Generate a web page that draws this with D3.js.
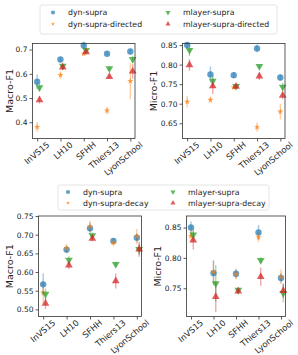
<!DOCTYPE html>
<html><head><meta charset="utf-8">
<script src="https://cdn.jsdelivr.net/npm/d3@7"></script>
<style>body{margin:0;background:#fff} svg{display:block;font-family:"DejaVu Sans",sans-serif}</style>
</head><body><svg id="c" width="298" height="355"></svg>
<script>
const categories = ["InVS15","LH10","SFHH","Thiers13","LyonSchool"];
const seriesTop = ["dyn-supra","dyn-supra-directed","mlayer-supra","mlayer-supra-directed"];
const seriesBottom = ["dyn-supra","dyn-supra-decay","mlayer-supra","mlayer-supra-decay"];
const colors = ["#1f77b4","#ff7f0e","#2ca02c","#d62728"];

// Top-left: Macro-F1 (directed)
const macroDir_dyn = [0.567, 0.659, 0.717, 0.683, 0.692];
const macroDir_dyn_err = [0.03, 0.01, 0.015, 0.008, 0.012];
const macroDir_dir = [0.380, 0.595, 0.683, 0.448, 0.570];
const macroDir_dir_err = [0.02, 0.015, 0.006, 0.015, 0.075];
const macroDir_ml = [0.543, 0.632, 0.697, 0.622, 0.660];
const macroDir_ml_err = [0.015, 0.01, 0.008, 0.008, 0.015];
const macroDir_mldir = [0.492, 0.627, 0.690, 0.588, 0.610];
const macroDir_mldir_err = [0.015, 0.01, 0.008, 0.008, 0.03];

// Top-right: Micro-F1 (directed)
const microDir_dyn = [0.850, 0.775, 0.773, 0.8415, 0.767];
const microDir_dyn_err = [0.008, 0.02, 0.008, 0.01, 0.008];
const microDir_dir = [0.705, 0.710, 0.742, 0.640, 0.680];
const microDir_dir_err = [0.015, 0.008, 0.004, 0.012, 0.02];
const microDir_ml = [0.837, 0.758, 0.745, 0.796, 0.743];
const microDir_ml_err = [0.015, 0.015, 0.004, 0.005, 0.01];
const microDir_mldir = [0.799, 0.745, 0.744, 0.7705, 0.721];
const microDir_mldir_err = [0.015, 0.02, 0.004, 0.01, 0.01];

// Bottom-left: Macro-F1 (decay)
const macroDec_dyn = [0.567, 0.660, 0.717, 0.683, 0.692];
const macroDec_dyn_err = [0.03, 0.01, 0.015, 0.008, 0.012];
const macroDec_dec = [0.545, 0.663, 0.722, 0.679, 0.695];
const macroDec_dec_err = [0.03, 0.012, 0.015, 0.01, 0.02];
const macroDec_ml = [0.541, 0.632, 0.698, 0.621, 0.661];
const macroDec_ml_err = [0.015, 0.01, 0.008, 0.006, 0.015];
const macroDec_mldec = [0.516, 0.618, 0.690, 0.576, 0.661];
const macroDec_mldec_err = [0.015, 0.01, 0.008, 0.02, 0.02];

// Bottom-right: Micro-F1 (decay)
const microDec_dyn = [0.850, 0.775, 0.774, 0.842, 0.767];
const microDec_dyn_err = [0.01, 0.02, 0.008, 0.012, 0.008];
const microDec_dec = [0.836, 0.777, 0.773, 0.834, 0.769];
const microDec_dec_err = [0.01, 0.02, 0.008, 0.008, 0.012];
const microDec_ml = [0.838, 0.758, 0.747, 0.796, 0.742];
const microDec_ml_err = [0.01, 0.03, 0.005, 0.005, 0.015];
const microDec_mldec = [0.829, 0.736, 0.745, 0.769, 0.746];
const microDec_mldec_err = [0.015, 0.025, 0.005, 0.015, 0.012];

const ticksTL = [0.4, 0.5, 0.6, 0.7];
const ticksTR = [0.65, 0.70, 0.75, 0.80, 0.85];
const ticksBL = [0.50, 0.55, 0.60, 0.65, 0.70, 0.75];
const ticksBR = [0.75, 0.80, 0.85];

const svg = d3.select("#c");
const offsets = [0, 0, 0.1, 0.1];

function marker(g, i, x, y, s) {
  const c = colors[i];
  if (i === 0) {
    g.append("circle").attr("cx", x).attr("cy", y).attr("r", 3.2*s).attr("fill", c).attr("fill-opacity", 0.7);
  } else if (i === 1) {
    g.append("path").attr("d", d3.symbol(d3.symbolStar, 12*s*s)()).attr("transform", `translate(${x},${y})`).attr("fill", c).attr("fill-opacity", 0.75);
  } else if (i === 2) {
    g.append("path").attr("d", d3.symbol(d3.symbolTriangle, 26*s*s)()).attr("transform", `translate(${x},${y}) rotate(180)`).attr("fill", c).attr("fill-opacity", 0.75);
  } else {
    g.append("path").attr("d", d3.symbol(d3.symbolTriangle, 26*s*s)()).attr("transform", `translate(${x},${y})`).attr("fill", c).attr("fill-opacity", 0.75);
  }
}

function panel(cfg) {
  const x = d3.scaleLinear().domain([-0.2, 4.2]).range([cfg.x0, cfg.x1]);
  const y = d3.scaleLinear().domain(cfg.yd).range([cfg.y1, cfg.y0]);
  const g = svg.append("g");
  cfg.series.forEach((s, i) => {
    s.v.forEach((v, k) => {
      const xx = x(k + offsets[i]);
      g.append("line").attr("x1", xx).attr("x2", xx).attr("y1", y(v - s.e[k])).attr("y2", y(v + s.e[k]))
        .attr("stroke", colors[i]).attr("stroke-opacity", 0.4).attr("stroke-width", 1.4);
    });
  });
  cfg.series.forEach((s, i) => {
    s.v.forEach((v, k) => marker(g, i, x(k + offsets[i]), y(v), 1));
  });
  const ay = d3.axisLeft(y).tickValues(cfg.ticks).tickFormat(d3.format(cfg.fmt)).tickSize(3).tickPadding(2);
  const gy = svg.append("g").attr("transform", `translate(${cfg.x0},0)`).call(ay);
  const ax = d3.axisBottom(x).tickValues(d3.range(categories.length)).tickFormat(() => "").tickSize(3);
  const gx = svg.append("g").attr("transform", `translate(0,${cfg.y1})`).call(ax);
  [gy, gx].forEach(a => {
    a.select(".domain").remove();
    a.selectAll("line").attr("stroke", "#333").attr("stroke-width", 0.8);
    a.selectAll("text").attr("font-size", 7.5).attr("fill", "#222").attr("font-family", "DejaVu Sans");
  });
  svg.append("rect").attr("x", cfg.x0).attr("y", cfg.y0).attr("width", cfg.x1 - cfg.x0).attr("height", cfg.y1 - cfg.y0)
    .attr("fill", "none").attr("stroke", "#333").attr("stroke-width", 0.8);
  categories.forEach((c, k) => {
    svg.append("text").attr("transform", `translate(${x(k) + 11},${cfg.y1 + 5}) rotate(-40)`)
      .attr("text-anchor", "end").attr("dy", "0.35em").attr("font-size", 8.4).attr("fill", "#222").text(c);
  });
  svg.append("text").attr("transform", `translate(${cfg.lx},${(cfg.y0 + cfg.y1) / 2}) rotate(-90)`)
    .attr("text-anchor", "middle").attr("font-size", 9.5).attr("fill", "#222").text(cfg.label);
}

function mk(v, e) { return {v, e}; }

panel({x0: 32.5, x1: 135, y0: 43.5, y1: 138.5, yd: [0.333, 0.725], ticks: ticksTL, fmt: ".1f", lx: 13, label: "Macro-F1",
  series: [mk(macroDir_dyn, macroDir_dyn_err), mk(macroDir_dir, macroDir_dir_err), mk(macroDir_ml, macroDir_ml_err), mk(macroDir_mldir, macroDir_mldir_err)]});
panel({x0: 182.5, x1: 285, y0: 43.5, y1: 138.5, yd: [0.611, 0.854], ticks: ticksTR, fmt: ".2f", lx: 157, label: "Micro-F1",
  series: [mk(microDir_dyn, microDir_dyn_err), mk(microDir_dir, microDir_dir_err), mk(microDir_ml, microDir_ml_err), mk(microDir_mldir, microDir_mldir_err)]});
panel({x0: 38.5, x1: 141.5, y0: 216, y1: 316.5, yd: [0.481, 0.75], ticks: ticksBL, fmt: ".2f", lx: 13, label: "Macro-F1",
  series: [mk(macroDec_dyn, macroDec_dyn_err), mk(macroDec_dec, macroDec_dec_err), mk(macroDec_ml, macroDec_ml_err), mk(macroDec_mldec, macroDec_mldec_err)]});
panel({x0: 186.5, x1: 285.5, y0: 216, y1: 316.5, yd: [0.7035, 0.869], ticks: ticksBR, fmt: ".2f", lx: 161, label: "Micro-F1",
  series: [mk(microDec_dyn, microDec_dyn_err), mk(microDec_dec, microDec_dec_err), mk(microDec_ml, microDec_ml_err), mk(microDec_mldec, microDec_mldec_err)]});

function legend(names, bx, by, bw, bh, mx1, tx1, mx2, tx2, r1, r2) {
  svg.append("rect").attr("x", bx).attr("y", by).attr("width", bw).attr("height", bh).attr("rx", 2)
    .attr("fill", "#fff").attr("stroke", "#ddd").attr("stroke-width", 0.8);
  const pos = [[mx1, tx1, r1], [mx1, tx1, r2], [mx2, tx2, r1], [mx2, tx2, r2]];
  names.forEach((n, i) => {
    const [mx, tx, ry] = pos[i];
    marker(svg, i, mx, ry, 0.65);
    svg.append("text").attr("x", tx).attr("y", ry).attr("dy", "0.35em").attr("font-size", 7.8).attr("fill", "#222").text(n);
  });
}
legend(seriesTop, 40, 5, 237, 29, 53, 68, 168, 183, 12.5, 24);
legend(seriesBottom, 58, 185, 211, 25, 68, 83, 173, 188, 192, 203);
</script></body></html>
